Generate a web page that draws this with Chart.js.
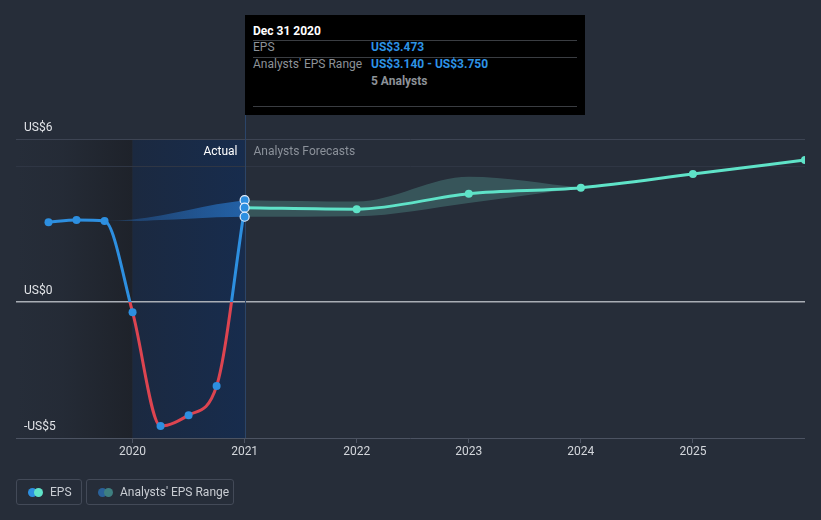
<!DOCTYPE html>
<html>
<head>
<meta charset="utf-8">
<script src="https://cdn.jsdelivr.net/npm/chart.js@4/dist/chart.umd.min.js"></script>
<style>
  html, body { margin: 0; padding: 0; background: #262d39; }
  #wrap { position: relative; width: 821px; height: 520px; font-family: Roboto, "Noto Sans", sans-serif; }
  canvas { position: absolute; left: 0; top: 0; }
  .tt { position: absolute; left: 245px; top: 15px; width: 340px; height: 100px; background: #000; }
  .tt div { position: absolute; font-size: 12px; line-height: 14px; white-space: nowrap; }
  .tt .hr { height: 1px; background: #3a3d42; left: 8px; width: 324px; }
  .lg { position: absolute; top: 479px; height: 26px; border: 1px solid #434a58; border-radius: 3px; box-sizing: border-box; }
  .lg .dot { position: absolute; top: 8px; width: 9px; height: 9px; border-radius: 50%; }
  .lg .txt { position: absolute; top: 5px; font-size: 12px; line-height: 14px; color: #c9cdd3; white-space: nowrap; }
</style>
</head>
<body>
<div id="wrap">
  <canvas id="c" width="821" height="520"></canvas>
  <div class="tt">
    <div style="left:8px;top:9px;color:#fff;font-weight:bold;">Dec 31 2020</div>
    <div class="hr" style="top:25px;"></div>
    <div style="left:8px;top:25px;color:#8d9298;">EPS</div>
    <div style="left:126px;top:25px;color:#2d93e6;font-weight:bold;">US$3.473</div>
    <div class="hr" style="top:42px;"></div>
    <div style="left:8px;top:42px;color:#8d9298;">Analysts' EPS Range</div>
    <div style="left:126px;top:42px;color:#2d93e6;font-weight:bold;">US$3.140 - US$3.750</div>
    <div style="left:126px;top:59px;color:#8d9298;font-weight:bold;">5 Analysts</div>
    <div class="hr" style="top:91px;"></div>
  </div>
  <div class="lg" style="left:16px;width:66px;">
    <div class="dot" style="left:11px;background:#2d8fe0;"></div>
    <div class="dot" style="left:17px;background:#5fe3c8;"></div>
    <div class="txt" style="left:33px;">EPS</div>
  </div>
  <div class="lg" style="left:86px;width:148px;">
    <div class="dot" style="left:11px;background:#2a6199;"></div>
    <div class="dot" style="left:17px;background:#3e7f80;"></div>
    <div class="txt" style="left:33px;">Analysts' EPS Range</div>
  </div>
</div>
<script>
// ---- data ----
const actualX   = [2019.25, 2019.5, 2019.75, 2020.0, 2020.25, 2020.5, 2020.75, 2021.0];
const actualEPS = [2.94, 3.02, 2.98, -0.37, -4.56, -4.16, -3.09, 3.473];

const forecastX   = [2021.0, 2022.0, 2023.0, 2024.0, 2025.0, 2026.0];
const forecastEPS = [3.473, 3.42, 3.99, 4.21, 4.71, 5.23];

const pastRangeX    = [2019.75, 2020.0, 2020.25, 2020.5, 2020.75, 2021.0];
const pastRangeLow  = [2.98, 2.98, 3.02, 3.07, 3.12, 3.14];
const pastRangeHigh = [2.98, 3.04, 3.19, 3.39, 3.6, 3.75];

const futureRangeX    = [2021.0, 2022.0, 2023.0, 2024.0];
const futureRangeLow  = [3.14, 3.16, 3.65, 4.21];
const futureRangeHigh = [3.75, 3.70, 4.61, 4.21];

const highlightX = 2021.0;
const highlightValues = [3.75, 3.473, 3.14];

const xTickValues = [2020, 2021, 2022, 2023, 2024, 2025];
const yTickValues = [-5, 0, 5, 6];
const yTickLabels = ['-US$5', 'US$0', '', 'US$6'];

const BLUE = '#2d8fe0', RED = '#dd4450', TEAL = '#5fe3c8';

const pts = (xs, ys) => xs.map((x, i) => ({x, y: ys[i]}));

function lineGradient(ctx) {
  const chart = ctx.chart;
  const {chartArea, scales} = chart;
  if (!chartArea) return BLUE;
  const y0 = scales.y.getPixelForValue(0);
  const g = chart.ctx.createLinearGradient(0, chartArea.top, 0, chartArea.bottom);
  const f = Math.min(1, Math.max(0, (y0 - chartArea.top) / (chartArea.bottom - chartArea.top)));
  g.addColorStop(0, BLUE); g.addColorStop(f, BLUE);
  g.addColorStop(f, RED); g.addColorStop(1, RED);
  return g;
}
function pastBandFill(ctx) {
  const chart = ctx.chart;
  const {chartArea, scales} = chart;
  if (!chartArea) return 'rgba(40,115,200,0.4)';
  const x0 = scales.x.getPixelForValue(pastRangeX[0]);
  const x1 = scales.x.getPixelForValue(pastRangeX[pastRangeX.length - 1]);
  const g = chart.ctx.createLinearGradient(x0, 0, x1, 0);
  g.addColorStop(0, 'rgba(40,115,200,0.25)');
  g.addColorStop(1, 'rgba(40,120,205,0.7)');
  return g;
}

const bgPlugin = {
  id: 'bg',
  beforeDraw(chart) {
    const {ctx, chartArea: a, scales: {x}} = chart;
    ctx.save();
    ctx.fillStyle = '#262d39';
    ctx.fillRect(0, 0, chart.width, chart.height);
    const x2020 = x.getPixelForValue(2020), x2021 = x.getPixelForValue(2021);
    let g = ctx.createLinearGradient(a.left, 0, x2020, 0);
    g.addColorStop(0, 'rgba(30,34,42,0)');
    g.addColorStop(0.4, 'rgba(30,34,42,0.2)');
    g.addColorStop(1, 'rgba(30,34,42,1)');
    ctx.fillStyle = g;
    ctx.fillRect(a.left, a.top, x2020 - a.left, a.bottom - a.top);
    g = ctx.createLinearGradient(x2020, 0, x2021, 0);
    g.addColorStop(0, '#1b2940');
    g.addColorStop(1, '#172c4d');
    ctx.fillStyle = g;
    ctx.fillRect(x2020, a.top, x2021 - x2020, a.bottom - a.top);
    ctx.restore();
  },
  afterDraw(chart) {
    const {ctx, chartArea: a, scales: {x}} = chart;
    const x2021 = Math.round(x.getPixelForValue(2021)) + 0.5;
    ctx.save();
    ctx.font = '12px Roboto, "Noto Sans", sans-serif';
    ctx.textBaseline = 'middle';
    ctx.textAlign = 'right';
    ctx.fillStyle = '#ffffff';
    ctx.fillText('Actual', x2021 - 8, a.top + 13);
    ctx.textAlign = 'left';
    ctx.fillStyle = '#8b919a';
    ctx.fillText('Analysts Forecasts', x2021 + 8, a.top + 13);
    ctx.restore();
  }
};
const vlinePlugin = {
  id: 'vline',
  beforeDatasetsDraw(chart) {
    const {ctx, chartArea: a, scales: {x}} = chart;
    const x2021 = Math.round(x.getPixelForValue(2021)) + 0.5;
    ctx.save();
    ctx.strokeStyle = '#2b4569';
    ctx.lineWidth = 1;
    ctx.beginPath();
    ctx.moveTo(x2021, 115);
    ctx.lineTo(x2021, a.bottom);
    ctx.stroke();
    ctx.restore();
  }
};

new Chart(document.getElementById('c'), {
  type: 'line',
  data: {
    datasets: [
      { data: pts(pastRangeX, pastRangeLow), borderWidth: 0, pointRadius: 0, fill: false,
        cubicInterpolationMode: 'monotone', order: 10 },
      { data: pts(pastRangeX, pastRangeHigh), borderWidth: 0, pointRadius: 0, fill: '-1',
        backgroundColor: pastBandFill, cubicInterpolationMode: 'monotone', order: 10 },
      { data: pts(futureRangeX, futureRangeLow), borderWidth: 0, pointRadius: 0, fill: false,
        cubicInterpolationMode: 'monotone', order: 10 },
      { data: pts(futureRangeX, futureRangeHigh), borderWidth: 0, pointRadius: 0, fill: '-1',
        backgroundColor: 'rgba(95,180,170,0.30)', cubicInterpolationMode: 'monotone', order: 10 },
      { data: pts(forecastX, forecastEPS), borderColor: TEAL, borderWidth: 3,
        pointRadius: forecastX.map((v, i) => i === 0 ? 0 : 4), pointBackgroundColor: TEAL,
        pointBorderWidth: 0, cubicInterpolationMode: 'monotone', fill: false, order: 3 },
      { data: pts(actualX, actualEPS), borderColor: lineGradient, borderWidth: 3,
        pointRadius: 4, pointBackgroundColor: BLUE, pointBorderWidth: 0,
        cubicInterpolationMode: 'monotone', fill: false, order: 2 },
      { data: highlightValues.map(v => ({x: highlightX, y: v})), showLine: false,
        pointRadius: 4.5, pointBackgroundColor: BLUE, pointBorderColor: '#e6f0ff',
        pointBorderWidth: 1.2, order: 0 }
    ]
  },
  options: {
    responsive: false,
    animation: false,
    devicePixelRatio: 1,
    layout: { padding: { top: 139, left: 16, right: 16, bottom: 0 } },
    plugins: { legend: { display: false }, tooltip: { enabled: false } },
    events: [],
    scales: {
      x: {
        type: 'linear', min: 2018.96, max: 2026.0,
        afterBuildTicks: ax => { ax.ticks = xTickValues.map(v => ({value: v})); },
        afterFit: ax => { ax.height = 82; },
        border: { display: false },
        grid: { drawOnChartArea: false, drawTicks: true, tickLength: 5, color: '#4c5362' },
        ticks: { color: '#d3d6db', font: { family: 'Roboto', size: 12 }, padding: 2,
                 maxRotation: 0, autoSkip: false, callback: v => String(v) }
      },
      y: {
        type: 'linear', min: -5, max: 6,
        afterBuildTicks: ax => { ax.ticks = yTickValues.map(v => ({value: v})); },
        afterFit: ax => { ax.width = 0; },
        border: { display: false },
        grid: {
          drawTicks: false,
          color: c => {
            const v = c.tick && c.tick.value;
            if (v === 0) return '#a9aeb5';
            if (v === 6) return '#3d4453';
            if (v === 5) return '#2f3644';
            return '#4c5362';
          },
          lineWidth: c => (c.tick && c.tick.value === 0) ? 1.5 : 1
        },
        ticks: {
          mirror: true, padding: 8, labelOffset: -11, crossAlign: 'near',
          color: '#e2e4e8', font: { family: 'Roboto', size: 12 },
          callback: (v) => { const i = yTickValues.indexOf(v); return i >= 0 ? yTickLabels[i] : ''; }
        }
      }
    }
  },
  plugins: [bgPlugin, vlinePlugin]
});
</script>
</body>
</html>
